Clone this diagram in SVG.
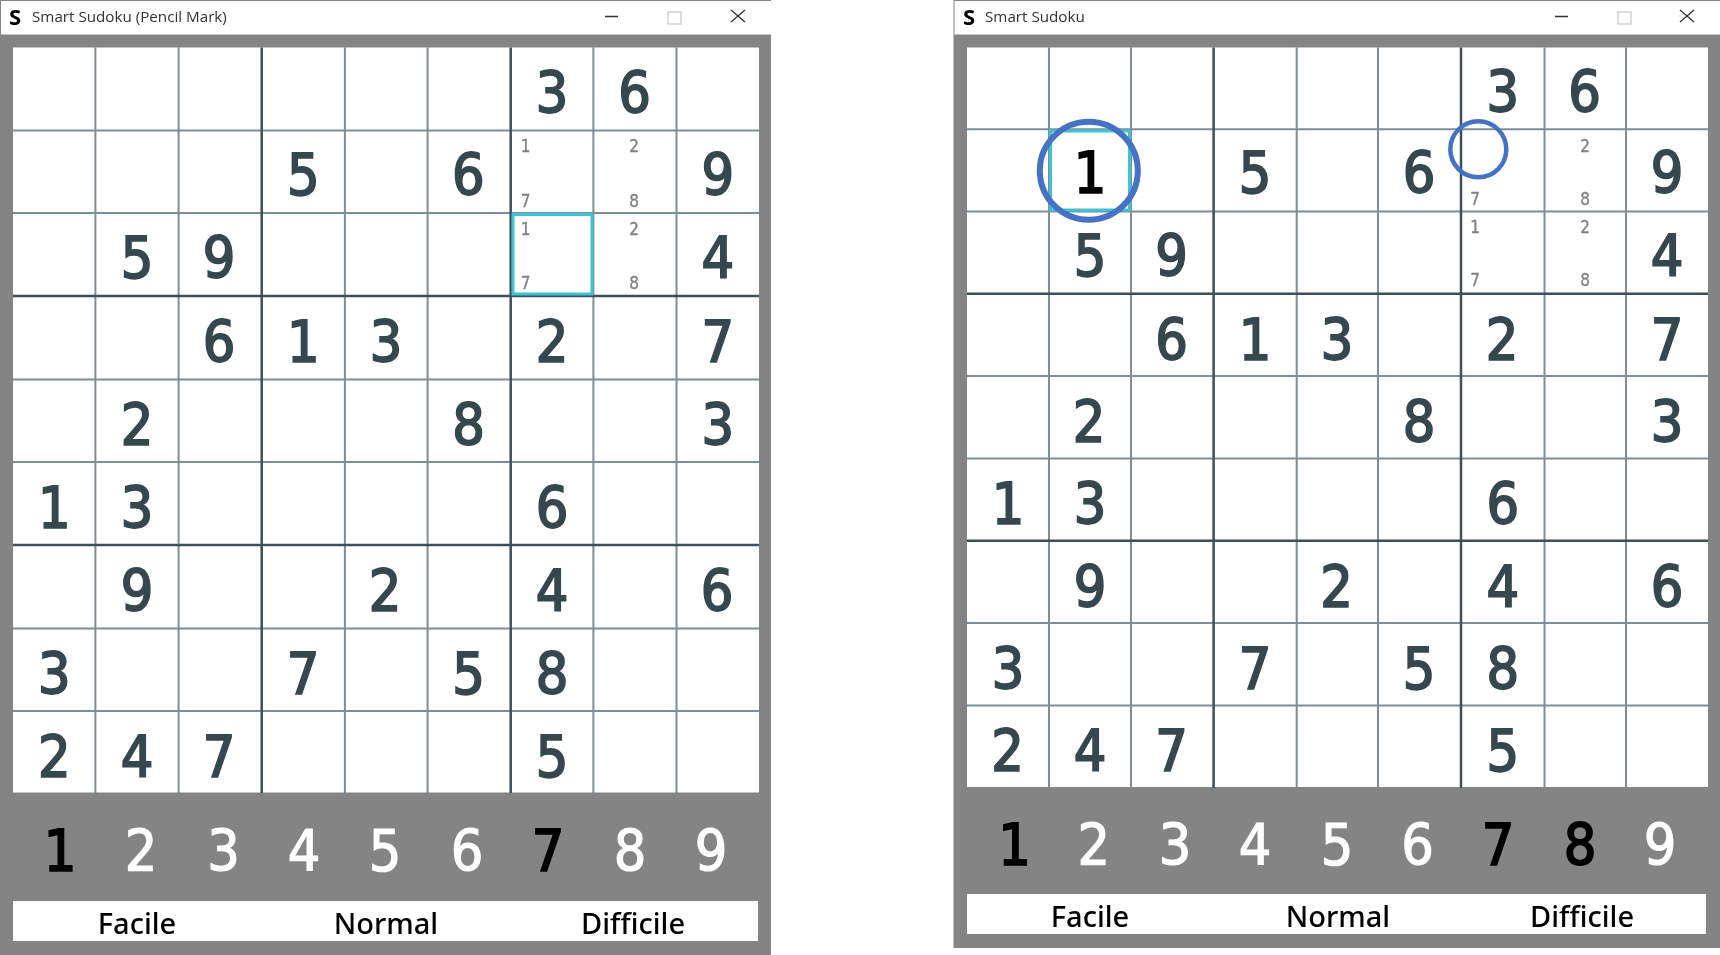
<svg xmlns="http://www.w3.org/2000/svg" width="1720" height="955" viewBox="0 0 1720 955">
<defs><filter id="soft" filterUnits="userSpaceOnUse" x="0" y="0" width="1720" height="955"><feGaussianBlur stdDeviation="0.45"/></filter></defs>
<style>
.bg{fill:#848484}
.bar{fill:#fff}
.thin{stroke:#7f8d96;stroke-width:2;fill:none}
.thick{stroke:#3d4f5a;stroke-width:2.5;fill:none}
.d{font-family:"DejaVu Sans",sans-serif;font-stretch:condensed;font-size:57px;text-anchor:middle;fill:#36474f;stroke:#36474f;stroke-width:1.8}
.k{fill:#000;stroke:#000}
.n{font-family:"DejaVu Sans",sans-serif;font-stretch:condensed;font-size:57px;text-anchor:middle;fill:#fff;stroke:#fff;stroke-width:1.2}
.nk{fill:#000;stroke:#000;stroke-width:1.8}
.p{font-family:"DejaVu Sans",sans-serif;font-stretch:condensed;font-size:17px;text-anchor:middle;fill:#808080;stroke:#808080;stroke-width:.3}
.l{font-family:"Noto Sans",sans-serif;font-size:29px;font-weight:500;text-anchor:middle;fill:#000}
.t{font-family:"Open Sans",sans-serif;font-size:15.2px;fill:#333}
.s{font-family:"Open Sans",sans-serif;font-size:22px;font-weight:700;text-anchor:middle;fill:#000}
.sel{fill:none;stroke:#3cc3d5;stroke-width:3}
.c{fill:none;stroke:#4472c4}
.w{fill:none;stroke:#333;stroke-width:1.3}
.m{fill:none;stroke:#ccc;stroke-width:1.3}
</style>
<rect width="1720" height="955" fill="#fff"/>
<g id="window-pencil" filter="url(#soft)">
<rect class="bg" x="0" y="0" width="771" height="955"/>
<rect fill="#fff" x="1" y="1" width="770" height="33.500"/>
<text class="s" x="15" y="25">S</text>
<text class="t" x="32" y="22">Smart Sudoku (Pencil Mark)</text>
<path class="w" d="M605 16.500H618M731 10L745 22M745 10L731 22"/>
<rect class="m" x="668" y="12" width="13" height="12"/>
<rect class="bar" x="13" y="47.500" width="746" height="745"/>
<g class="thin"><path d="M95.400 47.500V793M178.600 47.500V793M344.900 47.500V793M427.600 47.500V793M593.400 47.500V793M676.500 47.500V793M13 130.400H759M13 213H759M13 379.500H759M13 462H759M13 628.500H759M13 711H759"/></g>
<g class="thick"><path d="M261.700 47.500V793M510.700 47.500V793M13 296H759M13 545H759"/></g>
<rect class="sel" x="513" y="214.500" width="79" height="79.500"/>
<g id="grid-left">
<text class="d" x="552" y="113">3</text><text class="d" x="634.500" y="113">6</text>
<text class="d" x="303.300" y="195">5</text><text class="d" x="468.300" y="195">6</text><text class="d" x="717.700" y="195">9</text>
<text class="d" x="137" y="278">5</text><text class="d" x="219" y="278">9</text><text class="d" x="717.700" y="278">4</text>
<text class="d" x="219" y="362">6</text><text class="d" x="303.300" y="362">1</text><text class="d" x="386" y="362">3</text><text class="d" x="552" y="362">2</text><text class="d" x="717.700" y="362">7</text>
<text class="d" x="137" y="445">2</text><text class="d" x="468.600" y="445">8</text><text class="d" x="717.700" y="445">3</text>
<text class="d" x="54.200" y="527.500">1</text><text class="d" x="137" y="527.500">3</text><text class="d" x="552" y="527.500">6</text>
<text class="d" x="137" y="611">9</text><text class="d" x="385" y="611">2</text><text class="d" x="552" y="611">4</text><text class="d" x="717" y="611">6</text>
<text class="d" x="54.200" y="694">3</text><text class="d" x="303" y="694">7</text><text class="d" x="468.600" y="694">5</text><text class="d" x="552" y="694">8</text>
<text class="d" x="54.200" y="776.500">2</text><text class="d" x="137" y="776.500">4</text><text class="d" x="219" y="776.500">7</text><text class="d" x="552" y="776.500">5</text>
<text class="p" x="525.500" y="152">1</text><text class="p" x="525.500" y="206.500">7</text><text class="p" x="634" y="152">2</text><text class="p" x="634" y="206.500">8</text>
<text class="p" x="525.500" y="235">1</text><text class="p" x="525.500" y="289">7</text><text class="p" x="634" y="235">2</text><text class="p" x="634" y="289">8</text>
</g>
<g id="numbers-left">
<text class="n nk" x="60" y="871">1</text><text class="n" x="141" y="871">2</text><text class="n" x="223.500" y="871">3</text><text class="n" x="304" y="871">4</text><text class="n" x="385" y="871">5</text><text class="n" x="467" y="871">6</text><text class="n nk" x="548" y="871">7</text><text class="n" x="630" y="871">8</text><text class="n" x="711" y="871">9</text>
</g>
<rect class="bar" x="13" y="901" width="745" height="40"/>
<text class="l" x="137" y="933.500">Facile</text><text class="l" x="386" y="933.500">Normal</text><text class="l" x="633" y="933.500">Difficile</text>
</g>
<g id="window-normal" filter="url(#soft)">
<rect class="bg" x="953.500" y="0" width="766.500" height="948"/>
<rect fill="#fff" x="954.500" y="1" width="765.500" height="33.500"/>
<text class="s" x="969" y="25">S</text>
<text class="t" x="985" y="22">Smart Sudoku</text>
<path class="w" d="M1555 16.500H1568M1680 10L1694 22M1694 10L1680 22"/>
<rect class="m" x="1618" y="12" width="13" height="12"/>
<rect class="bar" x="967" y="47.500" width="741" height="739.500"/>
<g class="thin"><path d="M1049 47.500V788M1131 47.500V788M1296.700 47.500V788M1378 47.500V788M1544.500 47.500V788M1626 47.500V788M967 129.300H1708M967 211.500H1708M967 376H1708M967 458.500H1708M967 623H1708M967 705.400H1708"/></g>
<g class="thick"><path d="M1213.600 47.500V788M1461 47.500V788M967 293.800H1708M967 540.800H1708"/></g>
<rect class="sel" x="1050.500" y="131" width="79" height="79"/>
<g id="grid-right">
<text class="d" x="1502.700" y="112">3</text><text class="d" x="1584.500" y="112">6</text>
<text class="d k" x="1090" y="193">1</text><text class="d" x="1255" y="193">5</text><text class="d" x="1419" y="193">6</text><text class="d" x="1667" y="193">9</text>
<text class="d" x="1090" y="276">5</text><text class="d" x="1171.500" y="276">9</text><text class="d" x="1667" y="276">4</text>
<text class="d" x="1171.500" y="360">6</text><text class="d" x="1255" y="360">1</text><text class="d" x="1337" y="360">3</text><text class="d" x="1502" y="360">2</text><text class="d" x="1667" y="360">7</text>
<text class="d" x="1089" y="442">2</text><text class="d" x="1419" y="442">8</text><text class="d" x="1667" y="442">3</text>
<text class="d" x="1008" y="524">1</text><text class="d" x="1090" y="524">3</text><text class="d" x="1502.700" y="524">6</text>
<text class="d" x="1090" y="607">9</text><text class="d" x="1336.500" y="607">2</text><text class="d" x="1502.700" y="607">4</text><text class="d" x="1667" y="607">6</text>
<text class="d" x="1008" y="689">3</text><text class="d" x="1255" y="689">7</text><text class="d" x="1419" y="689">5</text><text class="d" x="1502.700" y="689">8</text>
<text class="d" x="1007.500" y="771">2</text><text class="d" x="1090" y="771">4</text><text class="d" x="1171.500" y="771">7</text><text class="d" x="1502.700" y="771">5</text>
<text class="p" x="1475" y="205">7</text><text class="p" x="1585" y="151.500">2</text><text class="p" x="1585" y="205">8</text>
<text class="p" x="1475" y="232.500">1</text><text class="p" x="1475" y="286">7</text><text class="p" x="1585" y="232.500">2</text><text class="p" x="1585" y="286">8</text>
</g>
<g id="numbers-right">
<text class="n nk" x="1014.600" y="865">1</text><text class="n" x="1093.700" y="865">2</text><text class="n" x="1175" y="865">3</text><text class="n" x="1255" y="865">4</text><text class="n" x="1337" y="865">5</text><text class="n" x="1417.600" y="865">6</text><text class="n nk" x="1498" y="865">7</text><text class="n nk" x="1580" y="865">8</text><text class="n" x="1660" y="865">9</text>
</g>
<rect class="bar" x="967" y="894" width="739" height="40"/>
<text class="l" x="1090" y="926.500">Facile</text><text class="l" x="1338" y="926.500">Normal</text><text class="l" x="1582" y="926.500">Difficile</text>
</g>
<g id="annotations" filter="url(#soft)">
<circle class="c" cx="1088.800" cy="170.700" r="49" stroke-width="6"/>
<circle class="c" cx="1478.300" cy="149.300" r="28" stroke-width="4.500"/>
</g>
</svg>
